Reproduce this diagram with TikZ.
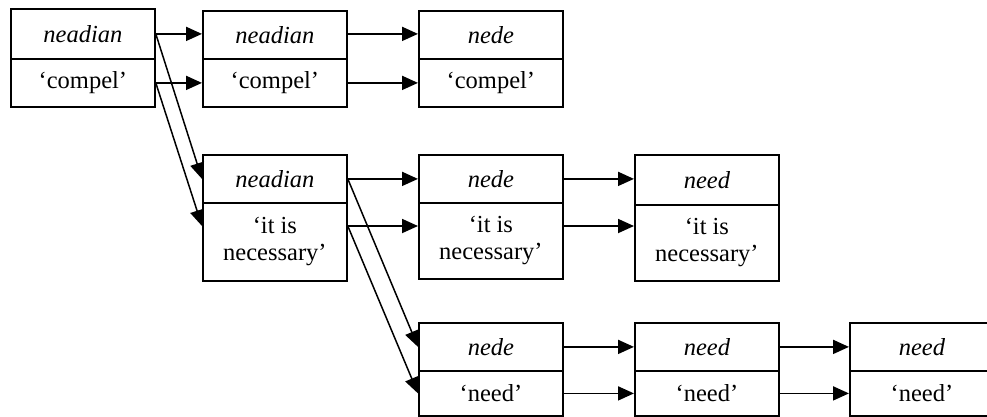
\documentclass[tikz,border=0pt]{standalone}
\usepackage{fontspec}
\setmainfont{Liberation Serif}
\usetikzlibrary{arrows.meta}
\begin{document}
\begin{tikzpicture}[x=1pt,y=-1pt,
  cell/.style={draw, line width=1.8pt, rectangle, inner sep=0pt, anchor=north west,
    minimum width=144pt, font=\fontsize{24.5}{27}\selectfont, align=center},
  head/.style={cell, minimum height=48pt},
  arr/.style={line width=1.8pt, -{Triangle[length=16pt,width=14pt]}},
  diag/.style={line width=1.5pt, -{Triangle[length=16pt,width=14pt]}}]
\useasboundingbox (0,0) rectangle (987,416);
\clip (0,0) rectangle (987,416);
% row 1
\node[head, minimum height=50pt] (A1) at (10,8) {\itshape neadian};
\node[cell, minimum height=48pt] (A2) at (10,58) {‘compel’};
\node[head] (B1) at (202,10) {\itshape neadian};
\node[cell, minimum height=48pt] (B2) at (202,58) {‘compel’};
\node[head] (C1) at (418,10) {\itshape nede};
\node[cell, minimum height=48pt] (C2) at (418,58) {‘compel’};
% row 2
\node[head] (D1) at (202,154) {\itshape neadian};
\node[cell, minimum height=78pt] (D2) at (202,202) {‘it is\\necessary’};
\node[head] (E1) at (418,154) {\itshape nede};
\node[cell, minimum height=76pt] (E2) at (418,202) {‘it is\\necessary’};
\node[head, minimum height=50pt] (F1) at (634,154) {\itshape need};
\node[cell, minimum height=76pt] (F2) at (634,204) {‘it is\\necessary’};
% row 3
\node[head] (G1) at (418,322) {\itshape nede};
\node[cell, minimum height=45pt] (G2) at (418,370) {‘need’};
\node[head] (H1) at (634,322) {\itshape need};
\node[cell, minimum height=45pt] (H2) at (634,370) {‘need’};
\node[head] (I1) at (849,322) {\itshape need};
\node[cell, minimum height=45pt] (I2) at (849,370) {‘need’};
% helper coordinates for row 2 lower arrows
\coordinate (D2e) at ([yshift=-24pt]D2.north east);
\coordinate (D2w) at ([yshift=-24pt]D2.north west);
\coordinate (E2e) at ([yshift=-24pt]E2.north east);
\coordinate (E2w) at ([yshift=-24pt]E2.north west);
\coordinate (F2w) at ([yshift=-22pt]F2.north west);
% horizontal arrows
\draw[arr] (A1.east) -- (B1.west |- A1.east);
\draw[arr] (A2.east) -- (B2.west);
\draw[arr] (B1.east |- A1.east) -- (C1.west |- A1.east);
\draw[arr] (B2.east) -- (C2.west);
\draw[arr] (D1.east) -- (E1.west);
\draw[arr] (D2e) -- (E2w);
\draw[arr] (E1.east) -- (F1.west |- E1.east);
\draw[arr] (E2e) -- (F2w |- E2e);
\draw[arr] (G1.east) -- (H1.west);
\draw[arr] (G2.east) -- (H2.west);
\draw[arr] (H1.east) -- (I1.west);
\draw[arr] (H2.east) -- (I2.west);
% diagonal arrows
\draw[diag] (A1.east) -- (D1.west);
\draw[diag] (A2.east) -- (D2w);
\draw[diag] (D1.east) -- (G1.west);
\draw[diag] (D2e) -- (G2.west);
\end{tikzpicture}
\end{document}
